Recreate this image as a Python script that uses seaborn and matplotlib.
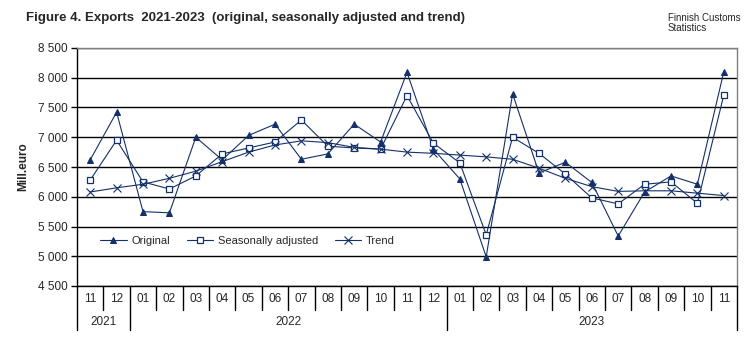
import matplotlib
matplotlib.use("Agg")
import matplotlib.pyplot as plt
import matplotlib.transforms as mtransforms
from matplotlib.ticker import FuncFormatter, MultipleLocator
import seaborn as sns
import pandas as pd

months = ["11", "12", "01", "02", "03", "04", "05", "06", "07", "08", "09", "10", "11", "12",
          "01", "02", "03", "04", "05", "06", "07", "08", "09", "10", "11"]
years = ["2021", "2022", "2023"]
year_spans = [(0, 2), (2, 14), (14, 25)]

original = [6620, 7420, 5750, 5730, 7000, 6620, 7030, 7220, 6630, 6720, 7220, 6920, 8090, 6800,
            6300, 4990, 7730, 6400, 6580, 6240, 5340, 6080, 6350, 6210, 8100]
seas_adj = [6280, 6950, 6250, 6130, 6350, 6720, 6820, 6920, 7290, 6850, 6820, 6800, 7700, 6900,
            6570, 5360, 7000, 6730, 6380, 5980, 5880, 6210, 6250, 5890, 7710]
trend = [6080, 6150, 6210, 6310, 6430, 6590, 6750, 6870, 6940, 6910, 6830, 6800, 6750, 6730,
         6700, 6670, 6630, 6480, 6310, 6170, 6090, 6100, 6100, 6060, 6020]

sns.set_theme(style="white")
plt.rcParams["font.family"] = ["Liberation Sans", "DejaVu Sans"]

navy = "#14306A"
x = list(range(len(months)))
df = pd.DataFrame({"x": x, "Original": original, "Seasonally adjusted": seas_adj, "Trend": trend})

fig = plt.figure(figsize=(7.56, 3.40), dpi=100)
ax = fig.add_axes([77 / 756, 1 - 286 / 340, 660 / 756, 238 / 340])

sns.lineplot(data=df, x="x", y="Original", ax=ax, color=navy, lw=0.8, marker="^",
             markersize=5, markerfacecolor=navy, markeredgecolor=navy, label="Original")
sns.lineplot(data=df, x="x", y="Seasonally adjusted", ax=ax, color=navy, lw=0.8, marker="s",
             markersize=5, markerfacecolor="white", markeredgecolor=navy, markeredgewidth=0.9,
             label="Seasonally adjusted")
sns.lineplot(data=df, x="x", y="Trend", ax=ax, color=navy, lw=0.8, marker="x",
             markersize=6, markeredgecolor=navy, markeredgewidth=0.8, label="Trend")

ax.set_xlim(-0.5, len(months) - 0.5)
ax.set_ylim(4500, 8500)
ax.yaxis.set_major_locator(MultipleLocator(500))
ax.yaxis.set_major_formatter(FuncFormatter(lambda v, p: f"{int(v):,}".replace(",", " ")))
ax.tick_params(axis="y", which="major", length=4, width=1, color="black", direction="out",
               labelsize=8.5, pad=3, left=True)
ax.set_xticks([])
ax.set_xlabel("")
ax.set_ylabel("Mill.euro", fontsize=8.5, fontweight="bold", labelpad=6)
ax.grid(axis="y", color="black", lw=1.0)
ax.set_axisbelow(True)
for s in ["left", "bottom"]:
    ax.spines[s].set_color("black")
    ax.spines[s].set_linewidth(1.0)
for s in ["top", "right"]:
    ax.spines[s].set_color("#808080")
    ax.spines[s].set_linewidth(1.0)

ax.legend(loc="center left", bbox_to_anchor=(0.035, 0.19), ncol=3, frameon=False, fontsize=8,
          handlelength=2.4, columnspacing=1.5, handletextpad=0.4, borderaxespad=0, borderpad=0)

trans = mtransforms.blended_transform_factory(ax.transData, ax.transAxes)
m_bottom = -24 / 238
y_bottom = -44 / 238
for i in range(len(months) + 1):
    xb = i - 0.5
    if i in (0, 2, 14, 25):
        ax.plot([xb, xb], [0, y_bottom], transform=trans, color="black", lw=1.0, clip_on=False)
    else:
        ax.plot([xb, xb], [0, m_bottom], transform=trans, color="black", lw=1.0, clip_on=False)
for i, m in enumerate(months):
    ax.text(i, -13 / 238, m, transform=trans, ha="center", va="center", fontsize=8.5)
for yname, (a, b) in zip(years, year_spans):
    ax.text((a + b - 1) / 2, -36 / 238, yname, transform=trans, ha="center", va="center", fontsize=8.5)

fig.text(26 / 756, 1 - 18 / 340, "Figure 4. Exports  2021-2023  (original, seasonally adjusted and trend)",
         fontsize=9.5, fontweight="bold", va="center", ha="left",
         family=["Liberation Sans Narrow", "Liberation Sans", "DejaVu Sans"])
fig.text(668 / 756, 1 - 23 / 340, "Finnish Customs\nStatistics", fontsize=7, va="center", ha="left",
         linespacing=0.9, family=["Liberation Sans Narrow", "Liberation Sans", "DejaVu Sans"])

fig.savefig("out.png", dpi=100)
